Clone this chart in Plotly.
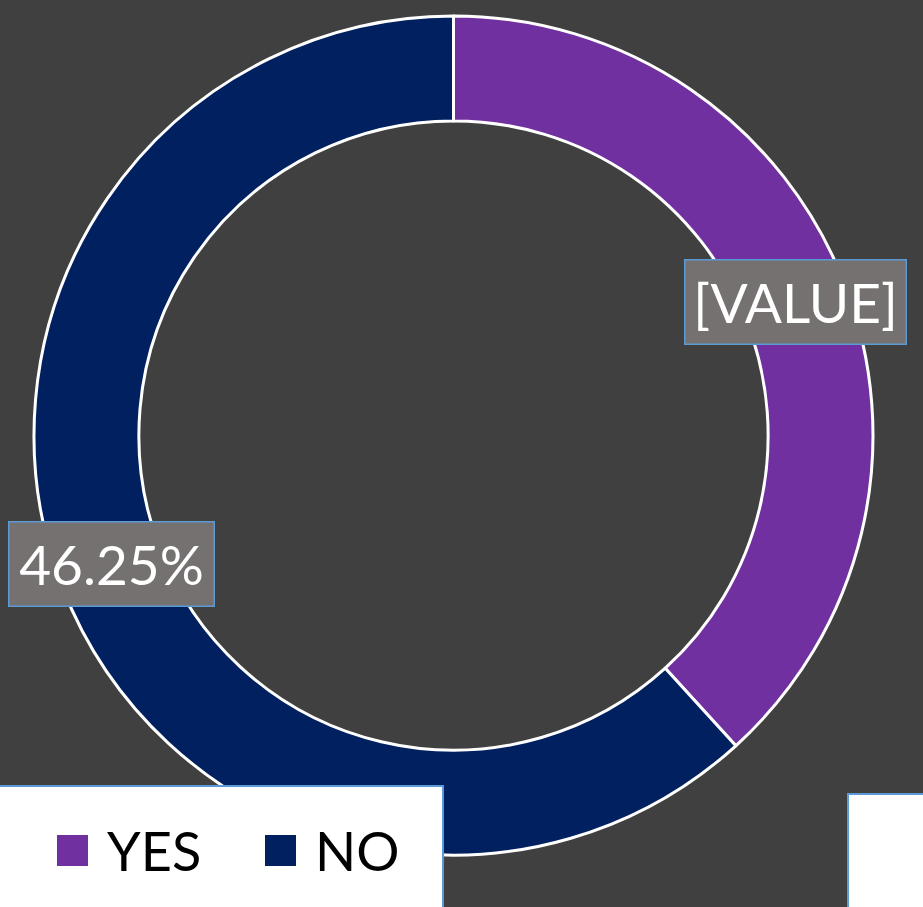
import plotly.graph_objects as go

# data
labels = ["YES", "NO"]
values = [38.25, 61.75]
colors = ["#7030A0", "#002060"]
label_texts = ["[VALUE]", "46.25%"]

W, H = 923, 907
BG = "#404040"
FONT = "Lato, 'Open Sans', sans-serif"


def px(x, y):
    """pixel -> paper coords"""
    return x / W, 1 - y / H


fig = go.Figure()
fig.add_trace(go.Pie(
    labels=labels,
    values=values,
    hole=0.75,
    sort=False,
    direction="clockwise",
    rotation=0,
    marker=dict(colors=colors, line=dict(color="white", width=3)),
    textinfo="none",
    hoverinfo="label+percent",
    domain=dict(x=[34 / W, 873 / W], y=[1 - 855 / H, 1 - 16 / H]),
    showlegend=False,
))

# data label boxes
boxes = [(795.5, 302, 220, 83), (111.5, 564, 204, 83)]
for txt, (cx, cy, bw, bh) in zip(label_texts, boxes):
    x, y = px(cx, cy)
    fig.add_annotation(
        x=x, y=y, xref="paper", yref="paper", xanchor="center", yanchor="middle",
        text=txt, showarrow=False, width=bw, height=bh, borderpad=0,
        bgcolor="#767171", bordercolor="#5B9BD5", borderwidth=1.5,
        font=dict(family=FONT, size=55, color="white"),
    )

# legend box and partial right box
fig.add_shape(type="rect", xref="paper", yref="paper", layer="above",
              x0=-0.01, x1=443 / W, y0=-0.01, y1=1 - 786 / H,
              fillcolor="white", line=dict(color="#5B9BD5", width=2))
fig.add_shape(type="rect", xref="paper", yref="paper", layer="above",
              x0=848 / W, x1=1.01, y0=-0.01, y1=1 - 794 / H,
              fillcolor="white", line=dict(color="#5B9BD5", width=2))

# legend entries
leg_x = [57, 265]
for name, col, lx in zip(labels, colors, leg_x):
    fig.add_shape(type="rect", xref="paper", yref="paper", layer="above",
                  x0=lx / W, x1=(lx + 31) / W, y0=1 - 866 / H, y1=1 - 835 / H,
                  fillcolor=col, line=dict(width=0))
    x, y = px(lx + 48, 850)
    fig.add_annotation(
        x=x, y=y, xref="paper", yref="paper", xanchor="left", yanchor="middle",
        text=name, showarrow=False,
        font=dict(family=FONT, size=54, color="black"),
    )

fig.update_layout(
    width=W, height=H,
    margin=dict(l=0, r=0, t=0, b=0),
    paper_bgcolor=BG, plot_bgcolor=BG,
    showlegend=False,
)
fig.write_html("out.html", config={"displayModeBar": False},
               post_script="document.body.style.margin='0';document.body.style.overflow='hidden';")
